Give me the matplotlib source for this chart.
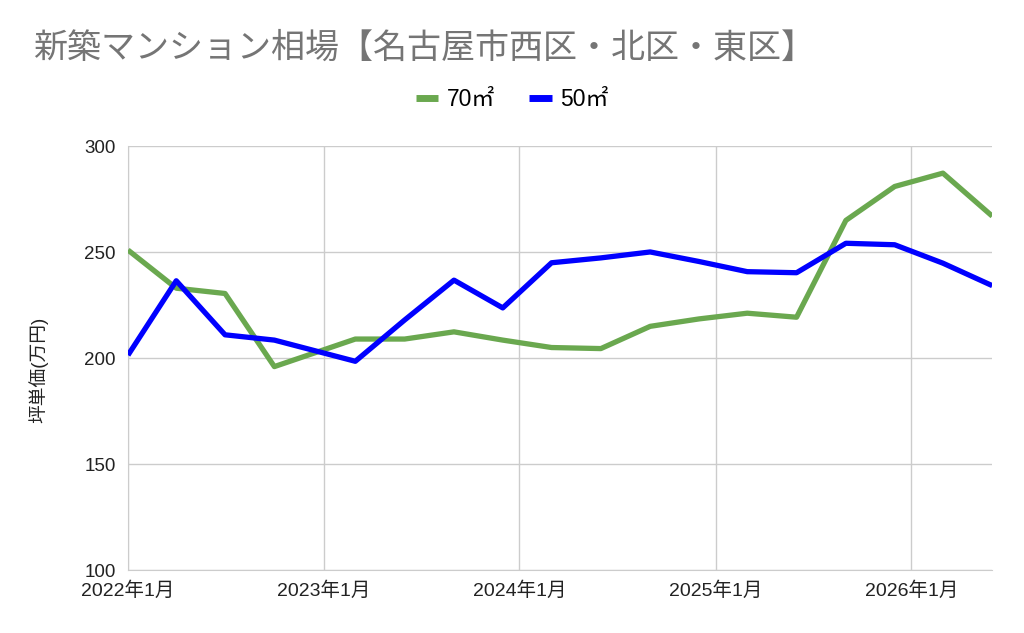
import datetime as dt
import matplotlib
matplotlib.use("Agg")
import matplotlib.pyplot as plt

plt.rcParams['font.family'] = ['Liberation Sans', 'Noto Sans CJK JP', 'DejaVu Sans']

# quarterly-ish observation months (year, month)
months = [(2022, 1), (2022, 4), (2022, 7), (2022, 10), (2023, 3), (2023, 6),
          (2023, 9), (2023, 12), (2024, 3), (2024, 6), (2024, 9), (2024, 12),
          (2025, 3), (2025, 6), (2025, 9), (2025, 12), (2026, 3), (2026, 6)]
price_70 = [251, 233, 230.5, 196, 209, 209, 212.4, 208.5, 205, 204.5, 215,
            218.5, 221.2, 219.3, 265, 281, 287.3, 267]
price_50 = [201.4, 236.5, 211, 208.5, 198.5, 218, 236.8, 223.7, 245, 247.3,
            250.1, 245.6, 240.8, 240.3, 254.2, 253.5, 244.8, 234.2]
tick_years = [2022, 2023, 2024, 2025, 2026]
yticks = [100, 150, 200, 250, 300]

dates = [dt.date(y, m, 1) for y, m in months]

fig = plt.figure(figsize=(10.24, 6.33), dpi=100)
ax = fig.add_axes([0.125, 0.0995, 0.844, 0.6695])

ax.plot(dates, price_70, color='#6aa84f', lw=3.8, label='70㎡', solid_capstyle='butt', zorder=3)
ax.plot(dates, price_50, color='#0000ff', lw=3.8, label='50㎡', solid_capstyle='butt', zorder=4)

ax.set_xlim(dates[0], dates[-1])
ax.set_ylim(100, 300)
ax.set_yticks(yticks)
ax.set_xticks([dt.date(y, 1, 1) for y in tick_years])
ax.set_xticklabels([f'{y}年1月' for y in tick_years])

ax.grid(True, color='#cccccc', lw=1)
ax.set_axisbelow(True)
for s in ['top', 'right']:
    ax.spines[s].set_visible(False)
for s in ['left', 'bottom']:
    ax.spines[s].set_color('#cccccc')
ax.tick_params(length=0, colors='#222222')
ax.tick_params(axis='y', pad=9, labelsize=13.5)
ax.tick_params(axis='x', pad=8, labelsize=14)

ax.set_ylabel('坪単価(万円)', fontsize=13.5, color='#222222')
ax.yaxis.set_label_coords(-0.092, 0.472)

fig.text(0.032, 0.924, '新築マンション相場【名古屋市西区・北区・東区】', fontsize=24.5,
         color='#757575', va='center', ha='left', family=['Noto Sans CJK JP'])

leg = fig.legend(loc='center', bbox_to_anchor=(0.5, 0.843), ncol=2, frameon=False,
                 fontsize=16.5, handlelength=1.0, handletextpad=0.35, columnspacing=1.5)
for h in leg.get_lines():
    h.set_linewidth(5)

fig.savefig('out.png', dpi=100)
